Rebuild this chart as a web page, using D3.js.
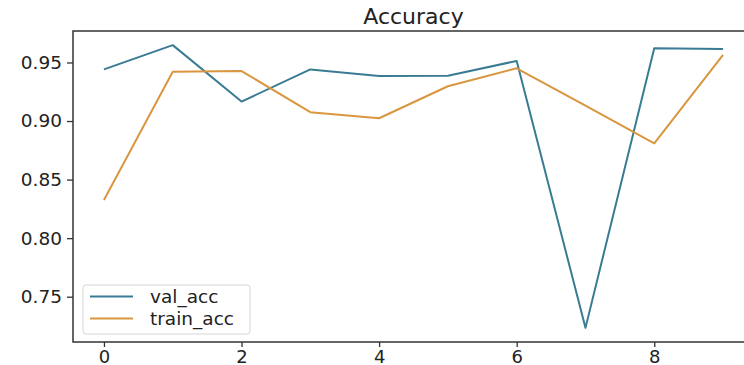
<!DOCTYPE html>
<html>
<head>
<meta charset="utf-8">
<script src="https://cdn.jsdelivr.net/npm/d3@7"></script>
<style>
  html, body { margin: 0; padding: 0; background: #fff; }
  svg { display: block; }
  text { font-family: "DejaVu Sans", sans-serif; fill: #222; }
</style>
</head>
<body>
<svg id="chart" width="744" height="365"></svg>
<script>
const epochs = [0, 1, 2, 3, 4, 5, 6, 7, 8, 9];
const valAcc = [0.9441, 0.9648, 0.9166, 0.9441, 0.9384, 0.9386, 0.9513, 0.7234, 0.9622, 0.9616];
const trainAcc = [0.8326, 0.9421, 0.9427, 0.9076, 0.9024, 0.9297, 0.9450, 0.9131, 0.8809, 0.9565];
const xTicks = [0, 2, 4, 6, 8];
const yTicks = [0.75, 0.80, 0.85, 0.90, 0.95];
const seriesNames = ["val_acc", "train_acc"];
const colors = ["#3a7b94", "#d9963e"];

const svg = d3.select("#chart");
const L = 73, R = 754, T = 31, B = 342;

const xPad = (d3.max(epochs) - d3.min(epochs)) * 0.05;
const x = d3.scaleLinear().domain([d3.min(epochs) - xPad, d3.max(epochs) + xPad]).range([L, R]);
const all = valAcc.concat(trainAcc);
const yMin = d3.min(all), yMax = d3.max(all), yPad = (yMax - yMin) * 0.05;
const y = d3.scaleLinear().domain([yMin - yPad, yMax + yPad]).range([B, T]);

// axes
const xAxis = svg.append("g").attr("transform", `translate(0,${B})`)
  .call(d3.axisBottom(x).tickValues(xTicks).tickFormat(d3.format("d")).tickSize(5).tickPadding(2));
const yAxis = svg.append("g").attr("transform", `translate(${L},0)`)
  .call(d3.axisLeft(y).tickValues(yTicks).tickFormat(d3.format(".2f")).tickSize(6).tickPadding(5));
[xAxis, yAxis].forEach(g => {
  g.select(".domain").remove();
  g.selectAll(".tick line").attr("stroke", "#333").attr("stroke-width", 1.3);
  g.selectAll(".tick text").attr("font-size", 18.5).attr("fill", "#222")
    .attr("font-family", "DejaVu Sans, sans-serif");
});
xAxis.selectAll(".tick text").attr("font-size", 18).attr("dy", "0.75em");

// spines
svg.append("rect").attr("x", L).attr("y", T).attr("width", R - L).attr("height", B - T)
  .attr("fill", "none").attr("stroke", "#333").attr("stroke-width", 1.5);

// lines
const line = d3.line().x((d, i) => x(epochs[i])).y(d => y(d));
[valAcc, trainAcc].forEach((s, k) => {
  svg.append("path").datum(s).attr("d", line)
    .attr("fill", "none").attr("stroke", colors[k]).attr("stroke-width", 2)
    .attr("stroke-linejoin", "round");
});

// title
svg.append("text").attr("x", (L + R) / 2).attr("y", 24).attr("text-anchor", "middle")
  .attr("font-size", 22).text("Accuracy");

// legend
const lg = svg.append("g").attr("transform", "translate(83,285)");
lg.append("rect").attr("width", 167).attr("height", 49).attr("rx", 3)
  .attr("fill", "#fff").attr("fill-opacity", 0.8).attr("stroke", "#d6d6d6");
seriesNames.forEach((n, k) => {
  const yy = 11.5 + k * 22;
  lg.append("line").attr("x1", 7).attr("x2", 50).attr("y1", yy).attr("y2", yy)
    .attr("stroke", colors[k]).attr("stroke-width", 2);
  lg.append("text").attr("x", 67).attr("y", yy).attr("dy", "0.35em")
    .attr("font-size", 18.5).text(n);
});
</script>
</body>
</html>
